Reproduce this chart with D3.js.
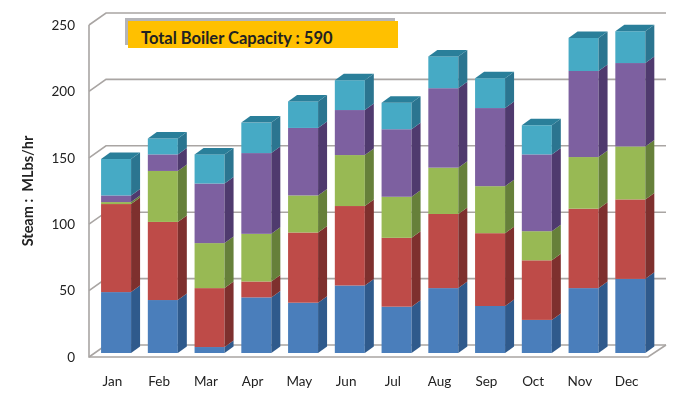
<!DOCTYPE html>
<html>
<head>
<meta charset="utf-8">
<script src="https://cdn.jsdelivr.net/npm/d3@7/dist/d3.min.js"></script>
<style>
html,body{margin:0;padding:0;background:#fff}
svg{display:block;filter:blur(0.55px)}
text{font-family:Lato,"Open Sans",sans-serif;fill:#222}
</style>
</head>
<body>
<svg id="chart" width="700" height="394"></svg>
<script>
const months = ["Jan","Feb","Mar","Apr","May","Jun","Jul","Aug","Sep","Oct","Nov","Dec"];
const blue   = [46,40,4.5,42,38,51,35,49,35.5,25,49,56];
const red    = [66.5,59,44.5,12,53,60,52,56,55,45,60,60];
const green  = [1.5,38.5,34,36,28,38.5,31,35,35.5,22,39,40];
const purple = [5,12.5,45,61,51,34,51,60,59,58,65,63];
const cyan   = [27.5,12,22,23,20,22.5,20,24,22.5,22,25,24];
const seriesNames = ["blue","red","green","purple","cyan"];
const seriesValues = [blue,red,green,purple,cyan];
const yTicks = [0,50,100,150,200,250];
const axisTitle = "Steam :  MLbs/hr";
const noteText = "Total Boiler Capacity : 590";

const faceColor = d3.scaleOrdinal(seriesNames,["#4a7ebb","#be4b48","#98b954","#7d60a0","#46aac5"]);
const sideColor = d3.scaleOrdinal(seriesNames,["#2f5a8c","#7e302e","#66803a","#4f3a6e","#2b7590"]);
const topColor = "#2a7f9a";

const svg = d3.select("#chart");
const x = d3.scaleBand().domain(months).range([89,650]);
const yAxisScale = d3.scaleLinear().domain([0,250]).range([357,25]);
const yBar = d3.scaleLinear().domain([0,250]).range([353,22]);
const wallDx = 17, wallDy = -12, barDx = 9, barDy = -6.5, barW = 30, barShift = 3.7;
const gridColor = "#a9a5a3";

// walls and floor
const grid = svg.append("g").attr("fill","none").attr("stroke",gridColor).attr("stroke-width",1.6);
grid.selectAll("path.g").data(yTicks).join("path").attr("class","g")
  .attr("d",v=>{const y=yAxisScale(v);return `M89,${y}L${89+wallDx},${y+wallDy}L${x.range()[1]+wallDx-1},${y+wallDy}`;});
grid.append("path").attr("d",`M89,${yAxisScale(250)}V${yAxisScale(0)}H${x.range()[1]-2}L${x.range()[1]+wallDx-1},${yAxisScale(0)+wallDy}`);

// stacked 3D bars
const rows = months.map((m,i)=>{const o={month:m};seriesNames.forEach((s,k)=>o[s]=seriesValues[k][i]);return o;});
const stacked = d3.stack().keys(seriesNames)(rows);
const bars = svg.append("g");
months.forEach((m,i)=>{
  const x0 = x(m)+x.bandwidth()/2+barShift-barW/2, x1 = x0+barW;
  const g = bars.append("g");
  stacked.forEach(layer=>{
    const y0=yBar(layer[i][0]), y1=yBar(layer[i][1]);
    g.append("rect").attr("x",x0).attr("y",y1).attr("width",barW).attr("height",y0-y1).attr("fill",faceColor(layer.key));
    g.append("path").attr("fill",sideColor(layer.key))
      .attr("d",`M${x1},${y0}L${x1+barDx},${y0+barDy}L${x1+barDx},${y1+barDy}L${x1},${y1}Z`);
  });
  const yt = yBar(stacked[stacked.length-1][i][1]);
  g.append("path").attr("fill",topColor)
    .attr("d",`M${x0},${yt}L${x0+barDx},${yt+barDy}L${x1+barDx},${yt+barDy}L${x1},${yt}Z`);
});

// axes
const yAxis = svg.append("g").attr("transform","translate(79,0)")
  .call(d3.axisLeft(yAxisScale).tickValues(yTicks).tickSize(0).tickPadding(4));
yAxis.select(".domain").remove();
yAxis.selectAll("text").style("font-family","Lato").style("font-size","13.5px").attr("fill","#222");
const xAxis = svg.append("g").attr("transform","translate(0,376)")
  .call(d3.axisBottom(x).tickSize(0).tickPadding(0));
xAxis.select(".domain").remove();
xAxis.selectAll("text").style("font-family","Lato").style("font-size","13.5px").attr("fill","#222");

svg.append("text").attr("transform","translate(33,191) rotate(-90)")
  .attr("text-anchor","middle").style("font-size","14.5px").style("font-weight","700")
  .attr("xml:space","preserve").style("white-space","pre").text(axisTitle);

// note box
svg.append("rect").attr("x",125).attr("y",18).attr("width",270).attr("height",27).attr("fill","#b4b4b8");
svg.append("rect").attr("x",128).attr("y",21).attr("width",270).attr("height",27).attr("fill","#ffc000");
svg.append("text").attr("x",141).attr("y",44).style("font-size","16.5px").style("font-weight","700").attr("fill","#111").text(noteText);
</script>
</body>
</html>
